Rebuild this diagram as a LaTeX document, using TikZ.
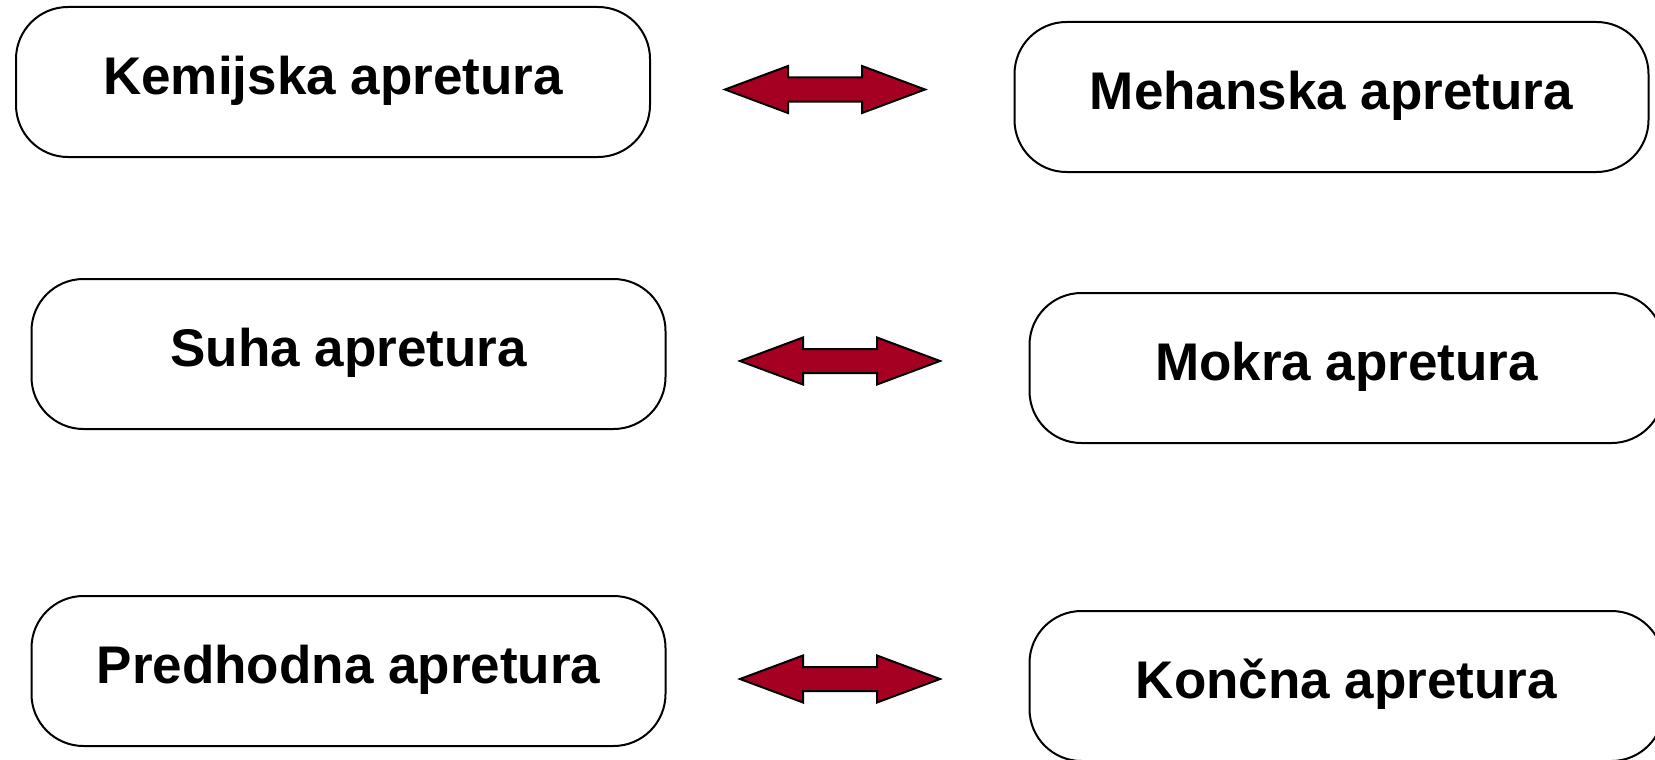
\documentclass[tikz,border=0pt]{standalone}
\usepackage{fontspec}
\setmainfont{Liberation Sans}
\definecolor{arrowred}{RGB}{165,0,33}
\tikzset{
  labelbox/.style={draw=black, line width=2pt, fill=white,
    rounded corners=52pt, minimum width=634pt, minimum height=150pt,
    inner sep=0pt, text height=38pt, text depth=14pt,
    font=\fontsize{53}{60}\selectfont\bfseries},
  dblarrow/.pic={
    \draw[fill=arrowred, draw=black, line width=2pt, line join=miter]
      (-100,0) -- (-37,-23.5) -- (-37,-12) -- (37,-12) -- (37,-23.5)
      -- (100,0) -- (37,23.5) -- (37,12) -- (-37,12) -- (-37,23.5) -- cycle;
  }
}
\begin{document}
\begin{tikzpicture}[x=1pt, y=-1pt]
  \useasboundingbox (0,0) rectangle (1655,760);
  \clip (0,0) rectangle (1655,760);
  \fill[white] (0,0) rectangle (1655,760);

  % left column
  \node[labelbox] (kem) at (333,82)    {Kemijska apretura};
  \node[labelbox] (suh) at (348.5,354) {Suha apretura};
  \node[labelbox] (pre) at (348.5,671) {Predhodna apretura};

  % right column
  \node[labelbox] (meh) at (1331.5,97) {Mehanska apretura};
  \node[labelbox] (mok) at (1346.5,368) {Mokra apretura};
  \node[labelbox] (kon) at (1346.5,686) {Končna apretura};

  % two-headed arrows between the pairs
  \coordinate (a1) at (825,89.5);
  \coordinate (a2) at (840,361);
  \coordinate (a3) at (840,679);
  \pic at (a1) {dblarrow};
  \pic at (a2) {dblarrow};
  \pic at (a3) {dblarrow};
\end{tikzpicture}
\end{document}
